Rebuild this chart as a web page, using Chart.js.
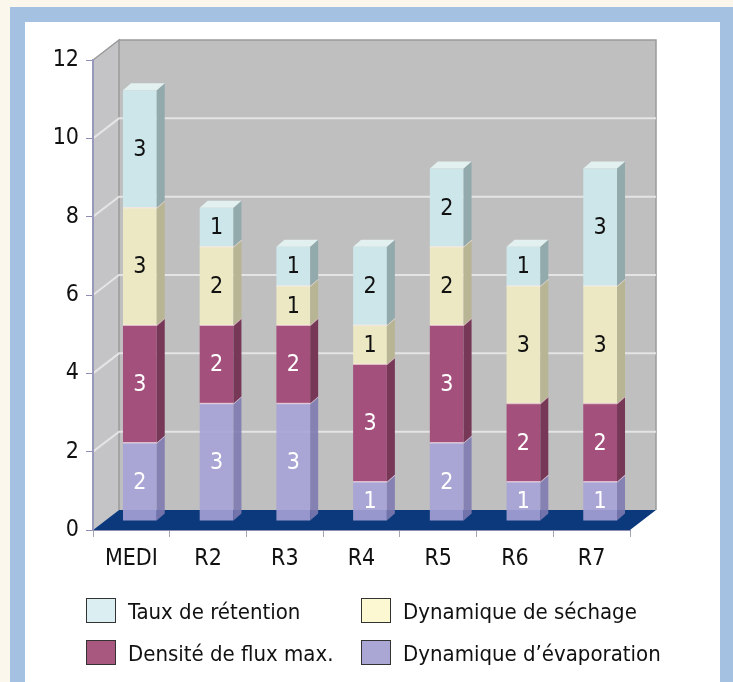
<!DOCTYPE html>
<html>
<head>
<meta charset="utf-8">
<script src="https://cdn.jsdelivr.net/npm/chart.js@4.4.1/dist/chart.umd.min.js"></script>
<style>
  html, body { margin: 0; padding: 0; background: #fcf7ec; }
  #wrap { position: relative; width: 733px; height: 682px; overflow: hidden; }
  #frame { position: absolute; left: 10px; top: 7px; width: 723px; height: 675px; background: #a4c1e1; }
  #panel { position: absolute; left: 25px; top: 22px; width: 695px; height: 660px; background: #fff; }
  #chart { position: absolute; left: 0; top: 0; }
  .legend-item { position: absolute; display: flex; align-items: center; height: 25px; white-space: nowrap; color: #111; }
  .legend-item .box { box-sizing: border-box; width: 30px; height: 25px; border: 1.5px solid #333; margin-right: 12px; flex: none; }
  .legend-item .txt { display: inline-block; position: relative; top: 1px; transform-origin: 0 50%; }
</style>
</head>
<body>
<div id="wrap">
  <div id="frame"></div>
  <div id="panel"></div>
  <canvas id="chart" width="733" height="682"></canvas>
  <div id="legend"></div>
</div>
<script>
// Data (stack order: bottom to top)
const categories = ['MEDI', 'R2', 'R3', 'R4', 'R5', 'R6', 'R7'];
const evaporation = [2, 3, 3, 1, 2, 1, 1];
const densite = [3, 2, 2, 3, 3, 2, 2];
const sechage = [3, 2, 1, 1, 2, 3, 3];
const retention = [3, 1, 1, 2, 2, 1, 3];
const yTicks = [0, 2, 4, 6, 8, 10, 12];

// The reference uses a condensed sans; use one if installed, else squeeze Open Sans
function fontInstalled(name) {
    const c = document.createElement('canvas').getContext('2d');
    const probe = 'Taux de rétention MEDI 0123';
    c.font = '40px monospace';
    const w1 = c.measureText(probe).width;
    c.font = '40px "' + name + '", monospace';
    return c.measureText(probe).width !== w1;
}
let FONT = '"Open Sans", sans-serif', AXIS_SIZE = 22, LABEL_SIZE = 24, LABEL_SQUEEZE = 0.85, LEGEND_SIZE = 25, LEGEND_SQUEEZE = 0.83;
if (fontInstalled('Liberation Sans Narrow')) {
    FONT = '"Liberation Sans Narrow", sans-serif'; AXIS_SIZE = 25; LABEL_SIZE = 25; LABEL_SQUEEZE = 1; LEGEND_SIZE = 27; LEGEND_SQUEEZE = 1;
} else if (fontInstalled('DejaVu Sans Condensed')) {
    FONT = '"DejaVu Sans Condensed", sans-serif'; AXIS_SIZE = 23; LABEL_SIZE = 23; LABEL_SQUEEZE = 1; LEGEND_SIZE = 22; LEGEND_SQUEEZE = 1;
}

// 3D offsets
const WALL_DX = 26, WALL_DY = -20;   // depth of the box
const BAR_DX = 8.5, BAR_DY = -9;     // bars sit a bit back from the front plane
const DEPTH_X = 8, DEPTH_Y = -7;     // thickness of each bar

const box3d = {
    id: 'box3d',
    beforeDraw: function(chart) {
        const ctx = chart.ctx;
        const a = chart.chartArea;
        const y = chart.scales.y;
        ctx.save();
        // left wall
        ctx.fillStyle = '#c4c4c7';
        ctx.beginPath();
        ctx.moveTo(a.left, a.top);
        ctx.lineTo(a.left + WALL_DX, a.top + WALL_DY);
        ctx.lineTo(a.left + WALL_DX, a.bottom + WALL_DY);
        ctx.lineTo(a.left, a.bottom);
        ctx.closePath();
        ctx.fill();
        // back wall
        ctx.fillStyle = '#bfbfbf';
        ctx.fillRect(a.left + WALL_DX, a.top + WALL_DY, a.width, a.height);
        ctx.strokeStyle = '#9a9a9a';
        ctx.lineWidth = 1.5;
        ctx.beginPath();
        ctx.moveTo(a.left, a.top);
        ctx.lineTo(a.left + WALL_DX, a.top + WALL_DY);
        ctx.lineTo(a.left + WALL_DX, a.bottom + WALL_DY);
        ctx.moveTo(a.left + WALL_DX, a.top + WALL_DY);
        ctx.lineTo(a.right + WALL_DX, a.top + WALL_DY);
        ctx.lineTo(a.right + WALL_DX, a.bottom + WALL_DY);
        ctx.stroke();
        // grid lines on the walls
        ctx.strokeStyle = 'rgba(232,232,232,0.9)';
        ctx.lineWidth = 2;
        yTicks.forEach(function(v) {
            if (v === yTicks[0] || v === yTicks[yTicks.length - 1]) return;
            const py = y.getPixelForValue(v);
            ctx.beginPath();
            ctx.moveTo(a.left, py);
            ctx.lineTo(a.left + WALL_DX, py + WALL_DY);
            ctx.lineTo(a.right + WALL_DX, py + WALL_DY);
            ctx.stroke();
        });
        // floor
        ctx.fillStyle = '#0b397b';
        ctx.beginPath();
        ctx.moveTo(a.left, a.bottom);
        ctx.lineTo(a.left + WALL_DX, a.bottom + WALL_DY);
        ctx.lineTo(a.right + WALL_DX, a.bottom + WALL_DY);
        ctx.lineTo(a.right, a.bottom);
        ctx.closePath();
        ctx.fill();
        ctx.restore();
    },
    beforeDatasetsDraw: function(chart) {
        chart.ctx.save();
        chart.ctx.translate(BAR_DX, BAR_DY);
    },
    afterDatasetsDraw: function(chart) {
        const ctx = chart.ctx;
        const sets = chart.data.datasets;
        sets.forEach(function(ds, i) {
            const meta = chart.getDatasetMeta(i);
            meta.data.forEach(function(bar, j) {
                const p = bar.getProps(['x', 'y', 'base', 'width'], true);
                const l = p.x - p.width / 2, r = p.x + p.width / 2;
                // right side face
                ctx.fillStyle = ds.sideColor;
                ctx.beginPath();
                ctx.moveTo(r, p.y);
                ctx.lineTo(r + DEPTH_X, p.y + DEPTH_Y);
                ctx.lineTo(r + DEPTH_X, p.base + DEPTH_Y);
                ctx.lineTo(r, p.base);
                ctx.closePath();
                ctx.fill();
                const isTop = sets.slice(i + 1).every(function(o) { return !o.data[j]; });
                if (isTop) {
                    ctx.fillStyle = ds.topColor;
                    ctx.beginPath();
                    ctx.moveTo(l, p.y);
                    ctx.lineTo(l + DEPTH_X, p.y + DEPTH_Y);
                    ctx.lineTo(r + DEPTH_X, p.y + DEPTH_Y);
                    ctx.lineTo(r, p.y);
                    ctx.closePath();
                    ctx.fill();
                } else {
                    ctx.strokeStyle = 'rgba(255,235,235,0.6)';
                    ctx.lineWidth = 1.5;
                    ctx.beginPath();
                    ctx.moveTo(l, p.y);
                    ctx.lineTo(r, p.y);
                    ctx.lineTo(r + DEPTH_X, p.y + DEPTH_Y);
                    ctx.stroke();
                }
                // value label
                ctx.save();
                ctx.translate(p.x, (p.y + p.base) / 2 + 1);
                ctx.scale(LABEL_SQUEEZE, 1);
                ctx.fillStyle = ds.labelColor;
                ctx.font = LABEL_SIZE + 'px ' + FONT;
                ctx.textAlign = 'center';
                ctx.textBaseline = 'middle';
                ctx.fillText(String(ds.data[j]), 0, 0);
                ctx.restore();
            });
        });
        ctx.restore();
    }
};

const datasets = [
    { label: 'Dynamique d\u2019évaporation', data: evaporation,
      backgroundColor: 'rgba(166,162,214,0.9)', sideColor: 'rgba(126,122,176,0.9)',
      topColor: '#c9c6ea', labelColor: '#ffffff', legendColor: '#aba7d5' },
    { label: 'Densité de flux max.', data: densite,
      backgroundColor: '#a4507c', sideColor: '#773858',
      topColor: '#c5809f', labelColor: '#ffffff', legendColor: '#a8587e' },
    { label: 'Dynamique de séchage', data: sechage,
      backgroundColor: '#ebe8c3', sideColor: '#b8b595',
      topColor: '#f6f3da', labelColor: '#111111', legendColor: '#fbf8d2' },
    { label: 'Taux de rétention', data: retention,
      backgroundColor: '#cce6ea', sideColor: '#93aaad',
      topColor: '#e2f0f0', labelColor: '#111111', legendColor: '#dbeff3' }
];

const ctx = document.getElementById('chart').getContext('2d');
const chart = new Chart(ctx, {
    type: 'bar',
    data: {
        labels: categories,
        datasets: datasets.map(function(d) {
            return Object.assign({ borderWidth: 0, barPercentage: 0.44, categoryPercentage: 1.0, clip: false }, d);
        })
    },
    options: {
        responsive: false,
        animation: false,
        layout: { padding: { top: 60, right: 103, bottom: 100, left: 0 } },
        scales: {
            x: {
                stacked: true,
                offset: true,
                grid: { drawOnChartArea: false, offset: true, tickLength: 7, color: '#a3a3b3' },
                border: { color: '#8d8db0', width: 1 },
                ticks: { color: '#111', padding: 8, font: { family: FONT, size: AXIS_SIZE } },
                afterFit: function(scale) { scale.height = 52; }
            },
            y: {
                stacked: true,
                min: 0,
                max: 12,
                grid: { drawOnChartArea: false, tickLength: 7, color: '#8f8fb6' },
                border: { color: '#9898bd', width: 2 },
                ticks: { stepSize: 2, color: '#111', padding: 7, font: { family: FONT, size: AXIS_SIZE } },
                afterFit: function(scale) { scale.width = 93; }
            }
        },
        plugins: {
            legend: { display: false },
            tooltip: { enabled: false }
        }
    },
    plugins: [box3d]
});

// Legend in two columns, built from the datasets
const legendOrder = [3, 2, 1, 0];
const legendSlots = [[86, 598], [361, 598], [86, 640], [361, 640]];
const legendEl = document.getElementById('legend');
legendOrder.forEach(function(idx, k) {
    const ds = datasets[idx];
    const item = document.createElement('div');
    item.className = 'legend-item';
    item.style.left = legendSlots[k][0] + 'px';
    item.style.top = legendSlots[k][1] + 'px';
    item.style.font = LEGEND_SIZE + 'px ' + FONT;
    const box = document.createElement('span');
    box.className = 'box';
    box.style.background = ds.legendColor;
    const txt = document.createElement('span');
    txt.className = 'txt';
    txt.textContent = ds.label;
    txt.style.transform = 'scaleX(' + LEGEND_SQUEEZE + ')';
    item.appendChild(box);
    item.appendChild(txt);
    legendEl.appendChild(item);
});
</script>
</body>
</html>
